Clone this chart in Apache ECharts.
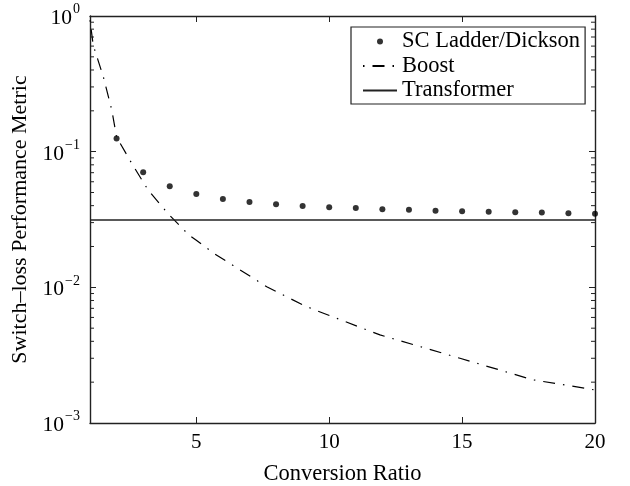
<!DOCTYPE html>
<html>
<head>
<meta charset="utf-8">
<script src="https://cdn.jsdelivr.net/npm/echarts@6/dist/echarts.min.js"></script>
<style>html,body{margin:0;padding:0;background:#fff}#c{width:630px;height:486px}</style>
</head>
<body>
<div id="c"></div>
<script>
// Data
const seriesNames = ['SC Ladder/Dickson', 'Boost', 'Transformer'];
const ladderX = [2, 3, 4, 5, 6, 7, 8, 9, 10, 11, 12, 13, 14, 15, 16, 17, 18, 19, 20];
const ladderY = [0.125, 0.0705, 0.0556, 0.0488, 0.0448, 0.0426, 0.0410, 0.0398, 0.0389, 0.0385, 0.0376, 0.0373, 0.0367, 0.0364, 0.0360, 0.0358, 0.0356, 0.0352, 0.0348];
const boostX = [1, 1.12, 1.5, 1.82, 2, 2.57, 3.19, 3.92, 4.72, 5.0, 5.7, 7.65, 9.02, 9.47, 11.91, 14.92, 17.67, 19.8, 20];
const boostY = [0.93, 0.61, 0.357, 0.203, 0.128, 0.082, 0.052, 0.0352, 0.0243, 0.0222, 0.0176, 0.0101, 0.0074, 0.0068, 0.00446, 0.0030, 0.00208, 0.00178, 0.00175];
const transformerX = [1, 20];
const transformerY = [0.0314, 0.0314];
const xTickValues = [5, 10, 15, 20];
const yMinorTicks = [];
[0.001, 0.01, 0.1].forEach(d => { for (let k = 2; k <= 9; k++) yMinorTicks.push(+(d * k).toPrecision(3)); });

const FONT = "'Liberation Serif', 'Times New Roman', serif";
const AX = '#222';

const zip = (a, b) => a.map((v, i) => [v, b[i]]);

const chart = echarts.init(document.getElementById('c'), null, {renderer: 'canvas'});

const yAxisBase = {
  type: 'log', logBase: 10, min: 0.001, max: 1, interval: 1,
  axisLine: {show: true, lineStyle: {color: AX, width: 1.4}},
  axisTick: {show: true, inside: true, length: 6, lineStyle: {color: AX, width: 1}},
  splitLine: {show: false},
  minorTick: {show: false}
};
const xAxisBase = {
  type: 'value', min: 1, max: 20,
  axisLine: {show: true, onZero: false, lineStyle: {color: AX, width: 1.4}},
  axisTick: {show: true, inside: true, length: 6, customValues: xTickValues, lineStyle: {color: AX, width: 1}},
  splitLine: {show: false}
};
const hiddenSymbol = {color: 'rgba(0,0,0,0)', borderWidth: 0, opacity: 0};

chart.setOption({
  backgroundColor: '#fff',
  animation: false,
  grid: {left: 90, right: 35, top: 16, bottom: 63, containLabel: false, outerBoundsMode: 'none'},
  legend: {
    orient: 'vertical', left: 351, top: 27,
    backgroundColor: '#fff', borderColor: AX, borderWidth: 1.2,
    padding: [3, 5, 2, 11], itemGap: 1.5, itemWidth: 34, itemHeight: 6, itemTextGap: 8,
    align: 'left',
    textStyle: {fontFamily: FONT, fontSize: 22.5, color: '#000', lineHeight: 22},
    data: [
      {name: seriesNames[0], icon: 'circle', itemStyle: {color: '#000'}},
      {name: seriesNames[1], itemStyle: hiddenSymbol},
      {name: seriesNames[2], itemStyle: hiddenSymbol}
    ]
  },
  xAxis: [
    Object.assign({}, xAxisBase, {
      position: 'bottom',
      name: 'Conversion Ratio', nameLocation: 'middle', nameGap: 40,
      nameTextStyle: {fontFamily: FONT, fontSize: 22.5, color: '#000'},
      axisLabel: {show: true, customValues: xTickValues, margin: 9, fontFamily: FONT, fontSize: 21, color: '#000'}
    }),
    Object.assign({}, xAxisBase, {position: 'top', axisLabel: {show: false}})
  ],
  yAxis: [
    Object.assign({}, yAxisBase, {
      position: 'left',
      name: 'Switch\u2013loss Performance Metric', nameLocation: 'middle', nameGap: 57, nameRotate: 90,
      nameTextStyle: {fontFamily: FONT, fontSize: 22, color: '#000'},
      axisLabel: {
        show: true, margin: 10, fontFamily: FONT, color: '#000',
        formatter: v => {
          const e = Math.round(Math.log10(v));
          return '{b|10}{s|' + (e < 0 ? '\u2212' + (-e) : e) + '}';
        },
        rich: {
          b: {fontFamily: FONT, fontSize: 21.5, color: '#000', padding: [5, 0, 0, 0]},
          s: {fontFamily: FONT, fontSize: 14, color: '#000', verticalAlign: 'top', padding: [0, 0, 0, 1]}
        }
      }
    }),
    Object.assign({}, yAxisBase, {position: 'right', axisLabel: {show: false}})
  ],
  series: [
    {
      name: seriesNames[0], type: 'scatter', xAxisIndex: 0, yAxisIndex: 0,
      symbol: 'circle', symbolSize: 6,
      itemStyle: {color: '#000'},
      data: zip(ladderX, ladderY), z: 5, clip: false
    },
    {
      name: seriesNames[1], type: 'line', xAxisIndex: 0, yAxisIndex: 0,
      showSymbol: false, symbol: 'none', smooth: false,
      lineStyle: {color: '#000', width: 1.2, type: [12, 8, 1.5, 8], dashOffset: 20},
      itemStyle: {color: '#000'},
      data: zip(boostX, boostY)
    },
    {
      name: seriesNames[2], type: 'line', xAxisIndex: 0, yAxisIndex: 0,
      showSymbol: false, symbol: 'none',
      lineStyle: {color: '#222', width: 1.5, type: 'solid'},
      itemStyle: {color: '#222'},
      data: zip(transformerX, transformerY)
    },
    {
      type: 'custom', xAxisIndex: 0, yAxisIndex: 0, silent: true, clip: false,
      data: yMinorTicks.map(v => [1, v]),
      encode: {x: 0, y: 1},
      renderItem: (params, api) => {
        const v = api.value(1);
        const pL = api.coord([1, v]);
        const pR = api.coord([20, v]);
        const st = {stroke: AX, lineWidth: 1};
        return {type: 'group', children: [
          {type: 'line', shape: {x1: pL[0], y1: pL[1], x2: pL[0] + 4, y2: pL[1]}, style: st},
          {type: 'line', shape: {x1: pR[0], y1: pR[1], x2: pR[0] - 4, y2: pR[1]}, style: st}
        ]};
      }
    }
  ]
});
</script>
</body>
</html>
